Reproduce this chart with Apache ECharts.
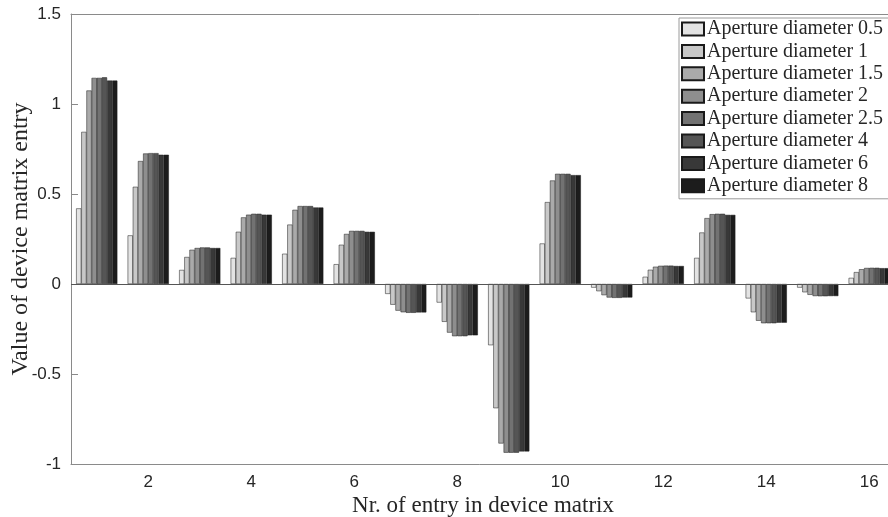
<!DOCTYPE html>
<html>
<head>
<meta charset="utf-8">
<script src="https://cdn.jsdelivr.net/npm/echarts@6/dist/echarts.min.js"></script>
<style>html,body{margin:0;padding:0;background:#fff}#c{width:888px;height:517px}</style>
</head>
<body>
<div id="c"></div>
<script>
const categories = ['1','2','3','4','5','6','7','8','9','10','11','12','13','14','15','16'];
const seriesNames = ['Aperture diameter 0.5','Aperture diameter 1','Aperture diameter 1.5','Aperture diameter 2','Aperture diameter 2.5','Aperture diameter 4','Aperture diameter 6','Aperture diameter 8'];
const d05 = [0.42,0.27,0.078,0.145,0.168,0.11,-0.055,-0.103,-0.34,0.225,-0.02,0.04,0.145,-0.08,-0.02,0.034];
const d1  = [0.845,0.54,0.15,0.29,0.33,0.218,-0.115,-0.21,-0.69,0.455,-0.04,0.079,0.286,-0.157,-0.046,0.066];
const d15 = [1.075,0.683,0.19,0.37,0.412,0.278,-0.148,-0.27,-0.886,0.575,-0.062,0.096,0.366,-0.204,-0.06,0.082];
const d2  = [1.145,0.725,0.2,0.385,0.433,0.295,-0.157,-0.29,-0.937,0.612,-0.075,0.101,0.388,-0.218,-0.067,0.089];
const d25 = [1.145,0.727,0.203,0.39,0.433,0.295,-0.16,-0.29,-0.937,0.612,-0.077,0.102,0.39,-0.218,-0.068,0.09];
const d4  = [1.148,0.727,0.203,0.39,0.433,0.295,-0.16,-0.29,-0.937,0.612,-0.077,0.102,0.39,-0.218,-0.068,0.09];
const d6  = [1.13,0.718,0.2,0.385,0.425,0.29,-0.158,-0.285,-0.93,0.605,-0.075,0.1,0.384,-0.215,-0.067,0.088];
const d8  = [1.13,0.718,0.2,0.385,0.425,0.29,-0.158,-0.285,-0.93,0.605,-0.075,0.1,0.384,-0.215,-0.067,0.088];
const seriesData = [d05,d1,d15,d2,d25,d4,d6,d8];
const colors = ['#e3e3e3','#c8c8c8','#aaaaaa','#8e8e8e','#727272','#555555','#383838','#1c1c1c'];

const axisGray = '#8a8a8a';
const textCol = '#262626';
const serif = '"Liberation Serif", "Times New Roman", serif';
const sans = '"Liberation Sans", Arial, sans-serif';
const evenOnly = (i) => i % 2 === 1;

const chart = echarts.init(document.getElementById('c'), null, {renderer: 'canvas'});
const series = seriesNames.map((name, k) => ({
  name: name,
  type: 'bar',
  data: seriesData[k],
  barGap: '0%',
  barCategoryGap: '20%',
  itemStyle: {color: colors[k], borderColor: '#1a1a1a', borderWidth: 0.5},
  emphasis: {disabled: true},
  animation: false
}));
series[0].markLine = {
  silent: true, symbol: 'none', animation: false,
  label: {show: false},
  lineStyle: {color: '#555', type: 'solid', width: 1},
  data: [{yAxis: 0}]
};
chart.setOption({
  backgroundColor: '#fff',
  animation: false,
  grid: {left: 71, right: -7, top: 14, bottom: 53, containLabel: false, outerBoundsMode: 'none'},
  legend: {
    orient: 'vertical',
    left: 679, top: 18,
    itemWidth: 22, itemHeight: 13,
    itemGap: 2.4,
    padding: [1, 30, 3, 2],
    backgroundColor: '#fff',
    borderColor: '#9a9a9a',
    borderWidth: 1,
    icon: 'rect',
    selectedMode: false,
    textStyle: {fontFamily: serif, fontSize: 20, color: textCol, lineHeight: 20, padding: [0,0,0,-2]},
    data: seriesNames
  },
  xAxis: [{
    type: 'category',
    data: categories,
    name: 'Nr. of entry in device matrix',
    nameLocation: 'middle',
    nameGap: 30,
    nameMoveOverlap: false,
    nameTextStyle: {fontFamily: serif, fontSize: 23, color: textCol},
    axisLine: {onZero: false, lineStyle: {color: axisGray}},
    axisTick: {inside: true, length: 7, alignWithLabel: true, interval: evenOnly, lineStyle: {color: axisGray}},
    axisLabel: {interval: evenOnly, fontFamily: sans, fontSize: 17, color: textCol, margin: 10},
    splitLine: {show: false}
  }, {
    type: 'category',
    data: categories,
    position: 'top',
    axisLine: {onZero: false, lineStyle: {color: axisGray}},
    axisTick: {inside: true, length: 7, alignWithLabel: true, interval: evenOnly, lineStyle: {color: axisGray}},
    axisLabel: {show: false},
    splitLine: {show: false}
  }],
  yAxis: [{
    type: 'value',
    min: -1, max: 1.5, interval: 0.5,
    name: 'Value of device matrix entry',
    nameLocation: 'middle',
    nameGap: 38,
    nameMoveOverlap: false,
    nameTextStyle: {fontFamily: serif, fontSize: 24, color: textCol},
    axisLine: {show: true, onZero: false, lineStyle: {color: axisGray}},
    axisTick: {show: true, inside: true, length: 7, lineStyle: {color: axisGray}},
    axisLabel: {fontFamily: sans, fontSize: 17, color: textCol, margin: 10},
    splitLine: {show: false}
  }],
  series: series
});
</script>
</body>
</html>
